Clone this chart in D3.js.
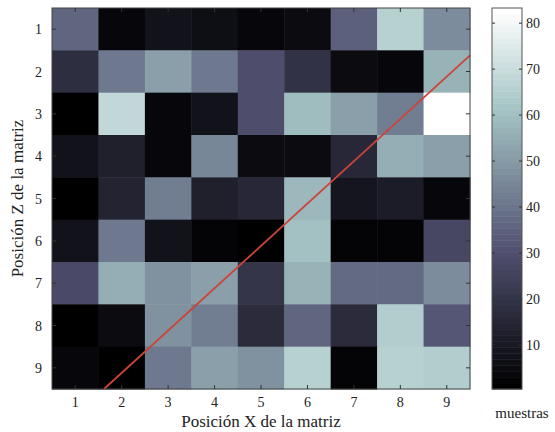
<!DOCTYPE html>
<html>
<head>
<meta charset="utf-8">
<script src="https://cdn.jsdelivr.net/npm/d3@7"></script>
<style>
  body { margin: 0; background: #fff; }
  svg { display: block; font-family: "Liberation Serif", "Times New Roman", serif; }
</style>
</head>
<body>
<svg id="chart" width="555" height="432"></svg>
<script>
// tick labels / categories
const xCats = [1, 2, 3, 4, 5, 6, 7, 8, 9];
const zCats = [1, 2, 3, 4, 5, 6, 7, 8, 9];
const cbTicks = [10, 20, 30, 40, 50, 60, 70, 80];

// muestras per cell, one row per Z position
const row1 = [36, 4, 8, 6, 3, 5, 35, 66, 47];
const row2 = [18, 41, 51, 41, 30, 19, 5, 3, 57];
const row3 = [0.4, 68, 4, 7, 29, 59, 51, 43, 83.3];
const row4 = [8, 13, 4, 45, 5, 5, 15, 55, 51];
const row5 = [0.4, 14, 42, 13, 15, 58, 9, 12, 4];
const row6 = [8, 41, 8, 2, 0.4, 61, 2, 2, 27];
const row7 = [28, 56, 48, 52, 20, 57, 37, 37, 46];
const row8 = [0.4, 5, 48, 42, 16, 36, 16, 64, 32];
const row9 = [3, 0.4, 41, 51, 48, 66, 2, 66, 64];
const rows = [row1, row2, row3, row4, row5, row6, row7, row8, row9];

// fitted red line, end points in matrix coordinates
const lineX = [1.62, 9.5];
const lineZ = [9.5, 1.62];

const svg = d3.select("#chart");
const plot = { left: 52, top: 8, right: 470, bottom: 389 };

// matlab "bone" colormap, 64 levels
function bone(i, n) {
  const g = i / (n - 1);
  const n1 = Math.floor(3 / 8 * n);
  const hr = i < n1 ? (i + 1) / n1 : 1;
  const hg = i < n1 ? 0 : (i < 2 * n1 ? (i - n1 + 1) / n1 : 1);
  const hb = i < 2 * n1 ? 0 : (i - 2 * n1 + 1) / (n - 2 * n1);
  return d3.rgb(255 * (7 * g + hb) / 8, 255 * (7 * g + hg) / 8, 255 * (7 * g + hr) / 8);
}
const N = 64;
const palette = d3.range(N).map(i => bone(i, N));

const vmin = d3.min(rows.flat()), vmax = d3.max(rows.flat());
const color = d3.scaleQuantize().domain([vmin, vmax]).range(palette);

const x = d3.scaleBand().domain(xCats).range([plot.left, plot.right]).padding(0);
const y = d3.scaleBand().domain(zCats).range([plot.top, plot.bottom]).padding(0);
const xl = d3.scaleLinear().domain([0.5, 9.5]).range([plot.left, plot.right]);
const yl = d3.scaleLinear().domain([0.5, 9.5]).range([plot.top, plot.bottom]);

const cells = [];
rows.forEach((r, zi) => r.forEach((v, xi) => cells.push({ x: xCats[xi], z: zCats[zi], v: v })));

svg.append("g").selectAll("rect")
  .data(cells)
  .join("rect")
    .attr("x", d => x(d.x))
    .attr("y", d => y(d.z))
    .attr("width", x.bandwidth() + 0.5)
    .attr("height", y.bandwidth() + 0.5)
    .attr("fill", d => color(d.v));

// red line
svg.append("path")
  .datum(lineX.map((v, i) => [v, lineZ[i]]))
  .attr("d", d3.line().x(d => xl(d[0])).y(d => yl(d[1])))
  .attr("fill", "none")
  .attr("stroke", "#cc4438")
  .attr("stroke-width", 1.8);

// frame + inward ticks
svg.append("rect")
  .attr("x", plot.left).attr("y", plot.top)
  .attr("width", plot.right - plot.left).attr("height", plot.bottom - plot.top)
  .attr("fill", "none").attr("stroke", "#444").attr("stroke-width", 1);

const tk = 4;
const tickCol = "#333";
const gx = svg.append("g");
xCats.forEach(c => {
  const px = x(c) + x.bandwidth() / 2;
  gx.append("line").attr("x1", px).attr("x2", px).attr("y1", plot.bottom).attr("y2", plot.bottom - tk).attr("stroke", tickCol);
  gx.append("line").attr("x1", px).attr("x2", px).attr("y1", plot.top).attr("y2", plot.top + tk).attr("stroke", tickCol);
  gx.append("text").attr("x", px).attr("y", plot.bottom + 18).attr("text-anchor", "middle")
    .attr("font-size", 14).attr("fill", "#222").text(c);
});
const gy = svg.append("g");
zCats.forEach(c => {
  const py = y(c) + y.bandwidth() / 2;
  gy.append("line").attr("x1", plot.left).attr("x2", plot.left + tk).attr("y1", py).attr("y2", py).attr("stroke", tickCol);
  gy.append("line").attr("x1", plot.right).attr("x2", plot.right - tk).attr("y1", py).attr("y2", py).attr("stroke", tickCol);
  gy.append("text").attr("x", plot.left - 10).attr("y", py + 5).attr("text-anchor", "end")
    .attr("font-size", 14).attr("fill", "#222").text(c);
});

svg.append("text")
  .attr("x", (plot.left + plot.right) / 2).attr("y", 427)
  .attr("text-anchor", "middle").attr("font-size", 17).attr("fill", "#222")
  .text("Posición X de la matriz");
svg.append("text")
  .attr("transform", `translate(23,${(plot.top + plot.bottom) / 2}) rotate(-90)`)
  .attr("text-anchor", "middle").attr("font-size", 17).attr("fill", "#222")
  .text("Posición Z de la matriz");

// colorbar
const cb = { left: 492, right: 522 };
const cy = d3.scaleLinear().domain([vmin, vmax]).range([plot.bottom, plot.top]);
const step = (vmax - vmin) / N;
svg.append("g").selectAll("rect")
  .data(palette)
  .join("rect")
    .attr("x", cb.left)
    .attr("y", (d, i) => cy(vmin + (i + 1) * step))
    .attr("width", cb.right - cb.left)
    .attr("height", (d, i) => cy(vmin + i * step) - cy(vmin + (i + 1) * step) + 0.5)
    .attr("fill", d => d);
svg.append("rect")
  .attr("x", cb.left).attr("y", plot.top)
  .attr("width", cb.right - cb.left).attr("height", plot.bottom - plot.top)
  .attr("fill", "none").attr("stroke", "#555").attr("stroke-width", 1);
const gc = svg.append("g");
cbTicks.forEach(t => {
  const py = cy(t);
  gc.append("line").attr("x1", cb.left).attr("x2", cb.left + 3).attr("y1", py).attr("y2", py).attr("stroke", tickCol);
  gc.append("line").attr("x1", cb.right).attr("x2", cb.right - 3).attr("y1", py).attr("y2", py).attr("stroke", tickCol);
  gc.append("text").attr("x", cb.right + 4).attr("y", py + 5)
    .attr("font-size", 14).attr("fill", "#222").text(t);
});
svg.append("text")
  .attr("x", 522).attr("y", 418).attr("text-anchor", "middle")
  .attr("font-size", 15).attr("fill", "#222").text("muestras");
</script>
</body>
</html>
